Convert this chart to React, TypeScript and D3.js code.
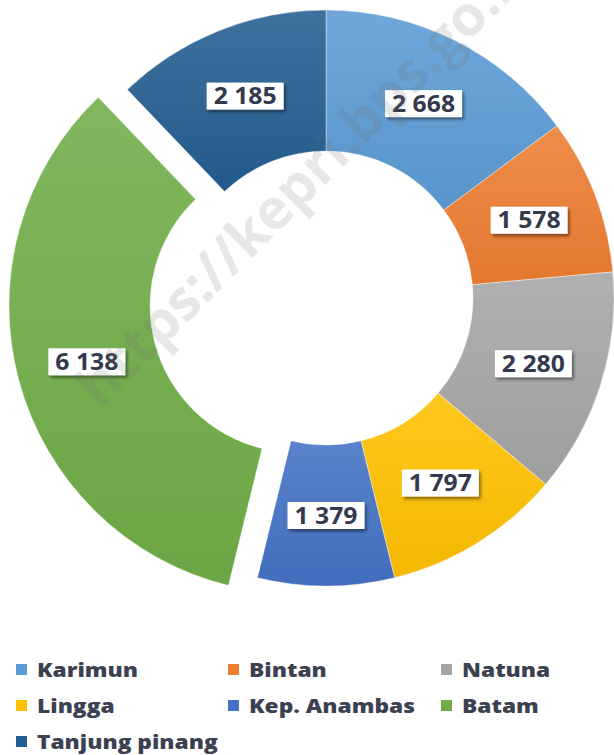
import * as d3 from "d3";

// kabupaten/kota dan nilainya
const regions = ["Karimun", "Bintan", "Natuna", "Lingga", "Kep. Anambas", "Batam", "Tanjung pinang"];
const values = [2668, 1578, 2280, 1797, 1379, 6138, 2185];
const colors = ["#5B9BD5", "#ED7D31", "#A5A5A5", "#FFC000", "#4472C4", "#70AD47", "#255E91"];
const exploded = ["Batam"];

const W = 614;
const H = 755;
const cx = 326;
const cy = 298;
const rOuter = 288;
const rInner = 147;
const explodeBy = 30;

const fmt = (v: number) => d3.format(",")(v).replace(/,/g, " ");

export default function App() {
  const data = regions.map((name, i) => ({ name, value: values[i], color: colors[i] }));

  const pie = d3.pie<any>().sort(null).value((d) => d.value);
  const arcs = pie(data);
  const arc = d3.arc<any>().innerRadius(rInner).outerRadius(rOuter);
  const labelArc = d3.arc<any>().innerRadius((rInner + rOuter) / 2).outerRadius((rInner + rOuter) / 2);

  const offsetOf = (a: any) => {
    if (!exploded.includes(a.data.name)) return [0, 0];
    const mid = (a.startAngle + a.endAngle) / 2;
    return [Math.sin(mid) * explodeBy, -Math.cos(mid) * explodeBy];
  };

  // legenda: 3 kolom
  const legendCols = [16, 228, 441];
  const legendRows = [677, 713, 749];

  return (
    <svg width={W} height={H} style={{ position: "absolute", left: 0, top: 0, background: "#fff" }}>
      <defs>
        {data.map((d, i) => (
          <linearGradient key={i} id={"g" + i} x1="0" y1="0" x2="0" y2="1">
            <stop offset="0%" stopColor={d3.interpolateRgb(d.color, "#fff")(0.12)} />
            <stop offset="100%" stopColor={d3.color(d.color)!.darker(0.12).toString()} />
          </linearGradient>
        ))}
        <filter id="shadow" x="-20%" y="-30%" width="150%" height="170%">
          <feDropShadow dx="2" dy="2.5" stdDeviation="1.5" floodColor="#000" floodOpacity="0.45" />
        </filter>
      </defs>

      <g transform={`translate(${cx},${cy})`}>
        {arcs.map((a, i) => {
          const [dx, dy] = offsetOf(a);
          return (
            <path
              key={i}
              d={arc(a) as string}
              transform={`translate(${dx},${dy})`}
              fill={`url(#g${i})`}
              stroke="#fff"
              strokeOpacity={0.5}
              strokeWidth={0.8}
            />
          );
        })}
        {arcs.map((a, i) => {
          const [dx, dy] = offsetOf(a);
          const [lx, ly] = labelArc.centroid(a);
          const x = lx + dx;
          const y = ly + dy;
          return (
            <g key={i} transform={`translate(${x},${y})`}>
              <rect x={-38.5} y={-13.5} width={77} height={27} fill="#fff" filter="url(#shadow)" />
              <text
                transform="scale(1.1,1)"
                textAnchor="middle"
                dy="0.36em"
                fontFamily="'Open Sans', sans-serif"
                fontWeight={700}
                fontSize={22.5}
                fill="#343a4e"
              >
                {fmt(a.data.value)}
              </text>
            </g>
          );
        })}
      </g>

      {data.map((d, i) => {
        const x = legendCols[i % 3];
        const y = legendRows[Math.floor(i / 3)];
        return (
          <g key={i}>
            <rect x={x} y={y - 13} width={11} height={11} fill={d.color} />
            <text
              transform={`translate(${x + 21},${y}) scale(1.23,1)`}
              fontFamily="'Open Sans', sans-serif"
              fontWeight={800}
              fontSize={18.5}
              fill="#3c4152"
            >
              {d.name}
            </text>
          </g>
        );
      })}

      <text
        transform="translate(100,410) rotate(-45)"
        fontFamily="'Open Sans', sans-serif"
        fontWeight={700}
        fontSize={56}
        fill="#6e6e6e"
        fillOpacity={0.17}
      >
        https://kepri.bps.go.id
      </text>
    </svg>
  );
}
